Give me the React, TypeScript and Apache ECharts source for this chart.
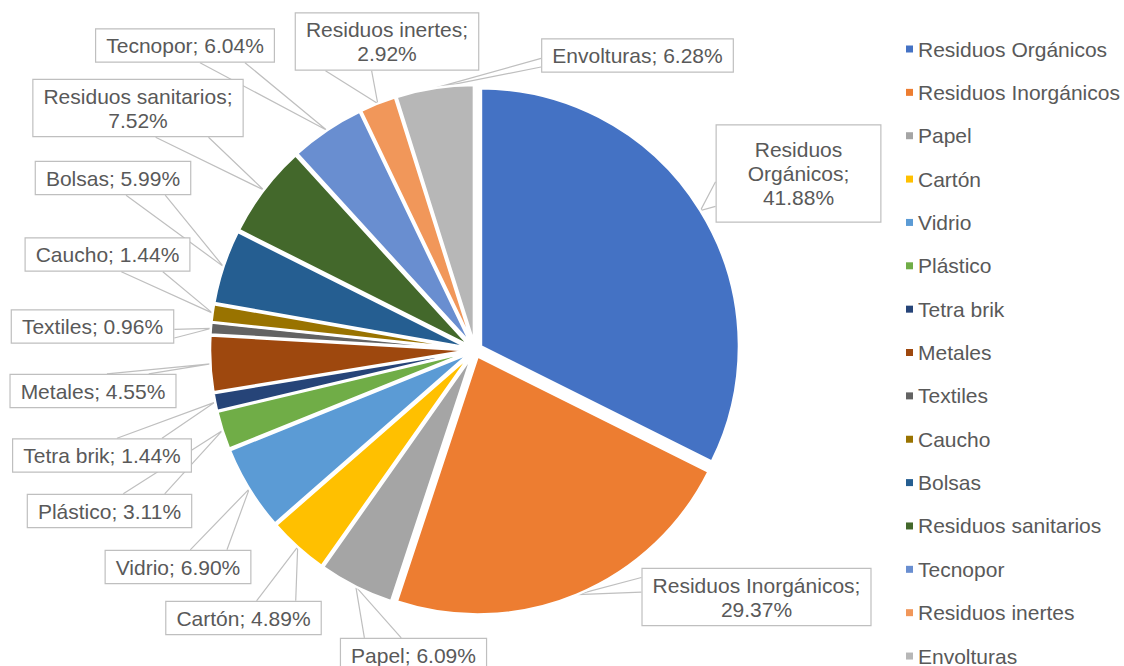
import React, { useEffect, useRef } from "react";
import * as echarts from "echarts";

const categories = [
  "Residuos Orgánicos",
  "Residuos Inorgánicos",
  "Papel",
  "Cartón",
  "Vidrio",
  "Plástico",
  "Tetra brik",
  "Metales",
  "Textiles",
  "Caucho",
  "Bolsas",
  "Residuos sanitarios",
  "Tecnopor",
  "Residuos inertes",
  "Envolturas",
];
const values = [41.88, 29.37, 6.09, 4.89, 6.9, 3.11, 1.44, 4.55, 0.96, 1.44, 5.99, 7.52, 6.04, 2.92, 6.28];
const colors = [
  "#4472C4", "#ED7D31", "#A5A5A5", "#FFC000", "#5B9BD5", "#70AD47", "#264478", "#9E480E",
  "#636363", "#997300", "#255E91", "#43682B", "#698ED0", "#F1975A", "#B7B7B7",
];
// 0: one line, 1: value on its own line, 2: every word on its own line
const labelWrap = [2, 1, 0, 0, 0, 0, 0, 0, 0, 0, 0, 1, 0, 1, 0];
// centres of the callout boxes (layout only)
const labelCenters = [
  [798.5, 173.5], [756.5, 597], [413.5, 655], [243.5, 618], [178, 567], [109.5, 511],
  [102, 455.5], [93, 391], [92.5, 326.5], [107.5, 254.5], [113, 178], [138, 108],
  [185, 45.5], [387, 41.5], [637.5, 55.5],
];

const FONT = "'Liberation Sans', Arial, sans-serif";
const TEXT = "#595959";
const CENTER = [475, 350];
const RADIUS = 258;
const OFFSET = 7;

export default function App() {
  const ref = useRef<HTMLDivElement>(null);
  useEffect(() => {
    if (!ref.current) return;
    const chart = echarts.init(ref.current, null, { renderer: "svg" });
    const sliceData = categories.map((name, i) => ({
      name,
      value: values[i],
      selected: true,
      itemStyle: { color: colors[i] },
    }));
    const labelData = categories.map((name, i) => ({
      name,
      value: values[i],
      label: i === 0 ? { padding: [12, 31] } : undefined,
    }));
    chart.setOption({
      animation: false,
      backgroundColor: "#ffffff",
      legend: {
        orient: "vertical",
        left: 906,
        top: 38,
        height: 720,
        padding: 0,
        icon: "rect",
        itemWidth: 7,
        itemHeight: 7,
        itemGap: 21.36,
        selectedMode: false,
        itemStyle: { borderWidth: 0 },
        textStyle: { fontSize: 21, lineHeight: 22, color: TEXT, fontFamily: FONT },
        data: categories.map((name, i) => ({ name, itemStyle: { color: colors[i], borderWidth: 0 } })),
      },
      series: [
        {
          type: "pie",
          center: CENTER,
          radius: RADIUS,
          startAngle: 90,
          clockwise: true,
          selectedMode: "multiple",
          selectedOffset: OFFSET,
          emphasis: { disabled: true },
          silent: true,
          itemStyle: { borderColor: "#ffffff", borderWidth: 2.5 },
          label: { show: false },
          labelLine: { show: false },
          data: sliceData,
        },
        {
          type: "pie",
          center: CENTER,
          radius: RADIUS + OFFSET,
          startAngle: 90,
          clockwise: true,
          silent: true,
          avoidLabelOverlap: false,
          emphasis: { disabled: true },
          itemStyle: { color: "rgba(0,0,0,0)", borderWidth: 0 },
          label: {
            show: true,
            position: "outside",
            color: TEXT,
            fontSize: 21,
            lineHeight: 24,
            fontFamily: FONT,
            backgroundColor: "#ffffff",
            borderColor: "#bfbfbf",
            borderWidth: 1.2,
            padding: [4, 10],
            align: "center",
            formatter: (p: any) => {
              const i = p.dataIndex;
              const v = values[i].toFixed(2) + "%";
              const name = categories[i];
              if (labelWrap[i] === 2) return name.split(" ").join("\n") + ";\n" + v;
              if (labelWrap[i] === 1) return name + ";\n" + v;
              return name + "; " + v;
            },
          },
          labelLine: { show: true, length: 10, length2: 10, lineStyle: { color: "#bfbfbf", width: 1.2 } },
          labelLayout: (p: any) => {
            const i = p.dataIndex;
            const [x, y] = labelCenters[i];
            const w = p.labelRect.width;
            const h = p.labelRect.height;
            const tip = p.labelLinePoints ? p.labelLinePoints[0] : [x, y];
            const l = x - w / 2;
            const t = y - h / 2;
            const dx = tip[0] - x;
            const dy = tip[1] - y;
            let a: number[];
            let b: number[];
            if (Math.abs(dx) * h > Math.abs(dy) * w) {
              const ex = dx > 0 ? l + w : l;
              const f = dy > 0 ? [7 / 12, 10 / 12] : [2 / 12, 5 / 12];
              a = [ex, t + h * f[0]];
              b = [ex, t + h * f[1]];
            } else {
              const ey = dy > 0 ? t + h : t;
              const f = dx > 0 ? [7 / 12, 10 / 12] : [2 / 12, 5 / 12];
              a = [l + w * f[0], ey];
              b = [l + w * f[1], ey];
            }
            return { x, y, align: "center", verticalAlign: "middle", labelLinePoints: [a, tip, b] };
          },
          data: labelData,
        },
      ],
    });
    return () => chart.dispose();
  }, []);
  return (
    <div
      ref={ref}
      style={{ position: "absolute", left: 0, top: 0, width: 1124, height: 666 }}
    />
  );
}
